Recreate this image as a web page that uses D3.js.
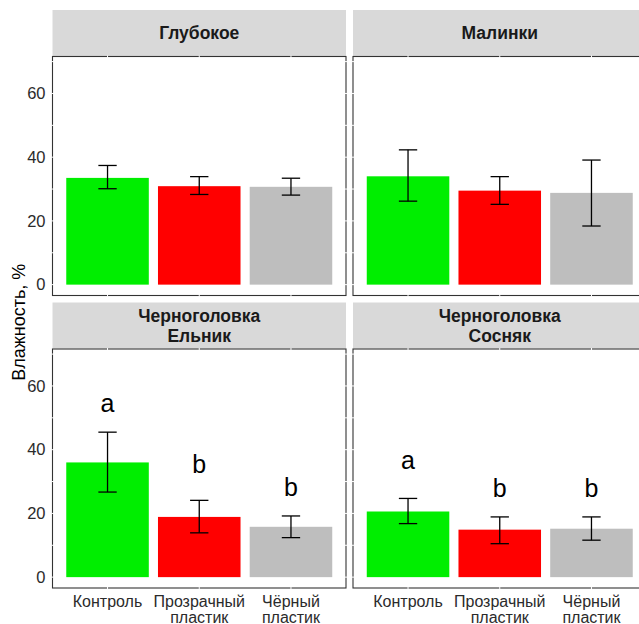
<!DOCTYPE html>
<html>
<head>
<meta charset="utf-8">
<script src="https://cdn.jsdelivr.net/npm/d3@7"></script>
<style>
  html, body { margin: 0; padding: 0; background: #fff; }
  svg { display: block; font-family: "Liberation Sans", Arial, sans-serif; }
</style>
</head>
<body>
<svg id="chart" width="639" height="624"></svg>
<script>
// Soil moisture (%) by site and mulch treatment: mean with error bar limits
const sites = ["Глубокое", "Малинки", "Черноголовка\nЕльник", "Черноголовка\nСосняк"];
const treatments = ["Контроль", "Прозрачный\nпластик", "Чёрный\nпластик"];
const treatmentColors = ["#00ee00", "#ff0000", "#bebebe"];

const meanValues = [
  [33.5, 30.9, 30.7],
  [34.0, 29.5, 28.8],
  [36.0, 18.9, 15.8],
  [20.6, 14.9, 15.2]
];
const lowerValues = [
  [30.1, 28.3, 28.1],
  [26.2, 25.2, 18.4],
  [26.7, 13.9, 12.4],
  [16.8, 10.5, 11.6]
];
const upperValues = [
  [37.4, 33.9, 33.4],
  [42.3, 33.9, 39.1],
  [45.5, 24.1, 19.2],
  [24.7, 18.9, 18.9]
];
// significance groups (letters) and the height of each letter's baseline
const groupLetters = [[], [], ["a", "b", "b"], ["a", "b", "b"]];
const letterY = [[], [], [51.7, 32.8, 25.5], [33.9, 25.3, 25.3]];

const yTicks = [0, 20, 40, 60];
const yMinor = [10, 30, 50, 70];
const yTitle = "Влажность, %";

// ---- layout ----
const svg = d3.select("#chart");
const colLeft = [52.5, 353];
const panelW = 293.5;
const rowStripTop = [10, 302.5];
const stripH = 46.5;
const panelH = 239;

const x = d3.scaleBand()
  .domain(d3.range(treatments.length))
  .range([0, panelW])
  .paddingInner(0.1)
  .paddingOuter(0.15);

const y = d3.scaleLinear()
  .domain([-3.41, 71.6])
  .range([panelH, 0]);

sites.forEach((site, p) => {
  const col = p % 2, row = Math.floor(p / 2);
  const left = colLeft[col];
  const stripTop = rowStripTop[row];
  const top = stripTop + stripH;

  // strip
  const strip = svg.append("g").attr("transform", `translate(${left},${stripTop})`);
  strip.append("rect")
    .attr("width", panelW).attr("height", stripH - 0.5)
    .attr("fill", "#d9d9d9");
  const lines = site.split("\n");
  const lh = 20;
  lines.forEach((ln, i) => {
    strip.append("text")
      .attr("x", panelW / 2)
      .attr("y", stripH / 2 + (i - (lines.length - 1) / 2) * lh)
      .attr("dy", "0.35em")
      .attr("text-anchor", "middle")
      .attr("font-size", 17.5)
      .attr("font-weight", "bold")
      .attr("fill", "#1a1a1a")
      .text(ln);
  });

  const g = svg.append("g").attr("transform", `translate(${left},${top})`);
  g.append("rect")
    .attr("width", panelW).attr("height", panelH)
    .attr("fill", "#fff")
    .attr("stroke", "#333").attr("stroke-width", 1.1);

  // white grid lines (visible only where they cross the border)
  const grid = g.append("g").attr("stroke", "#fff").attr("stroke-width", 1);
  grid.selectAll("line.h").data(yTicks.concat(yMinor)).join("line")
    .attr("x1", -1).attr("x2", panelW + 1)
    .attr("y1", d => y(d)).attr("y2", d => y(d));
  grid.selectAll("line.v").data(d3.range(treatments.length)).join("line")
    .attr("y1", -1).attr("y2", panelH + 1)
    .attr("x1", i => x(i) + x.bandwidth() / 2)
    .attr("x2", i => x(i) + x.bandwidth() / 2);

  // bars
  g.selectAll("rect.bar").data(meanValues[p]).join("rect")
    .attr("class", "bar")
    .attr("x", (d, i) => x(i))
    .attr("width", x.bandwidth())
    .attr("y", d => y(d))
    .attr("height", d => y(0) - y(d))
    .attr("fill", (d, i) => treatmentColors[i]);

  // error bars
  const capHalf = x.step() * 0.1;
  const eb = g.append("g").attr("stroke", "#000").attr("stroke-width", 1.3).attr("fill", "none");
  d3.range(treatments.length).forEach(i => {
    const cx = x(i) + x.bandwidth() / 2;
    const lo = y(lowerValues[p][i]), hi = y(upperValues[p][i]);
    eb.append("line").attr("x1", cx).attr("x2", cx).attr("y1", lo).attr("y2", hi);
    eb.append("line").attr("x1", cx - capHalf).attr("x2", cx + capHalf).attr("y1", lo).attr("y2", lo);
    eb.append("line").attr("x1", cx - capHalf).attr("x2", cx + capHalf).attr("y1", hi).attr("y2", hi);
  });

  // significance letters
  g.selectAll("text.letter").data(groupLetters[p]).join("text")
    .attr("class", "letter")
    .attr("x", (d, i) => x(i) + x.bandwidth() / 2)
    .attr("y", (d, i) => y(letterY[p][i]))
    .attr("text-anchor", "middle")
    .attr("font-size", 25)
    .attr("fill", "#000")
    .text(d => d);

  // y axis on the left column
  if (col === 0) {
    const ya = g.append("g")
      .call(d3.axisLeft(y).tickValues(yTicks).tickSize(0).tickPadding(7));
    ya.select(".domain").remove();
    ya.selectAll("text")
      .attr("font-size", 16.5)
      .attr("fill", "#2b2b2b")
      .attr("font-family", "Liberation Sans, Arial, sans-serif");
  }

  // x axis on the bottom row
  if (row === 1) {
    const xa = g.append("g").attr("transform", `translate(0,${panelH})`)
      .call(d3.axisBottom(x).tickSize(0).tickFormat(""));
    xa.select(".domain").remove();
    xa.selectAll(".tick").each(function(i) {
      const t = d3.select(this).append("text")
        .attr("text-anchor", "middle")
        .attr("font-size", 16)
        .attr("fill", "#2b2b2b")
        .attr("font-family", "Liberation Sans, Arial, sans-serif");
      treatments[i].split("\n").forEach((ln, k) => {
        t.append("tspan").attr("x", 0).attr("y", 19 + k * 15.5).text(ln);
      });
    });
  }
});

// y axis title
svg.append("text")
  .attr("transform", `translate(25,${rowStripTop[0] + stripH + (rowStripTop[1] + stripH + panelH - rowStripTop[0] - stripH) / 2}) rotate(-90)`)
  .attr("text-anchor", "middle")
  .attr("font-size", 18)
  .attr("fill", "#000")
  .text(yTitle);
</script>
</body>
</html>
